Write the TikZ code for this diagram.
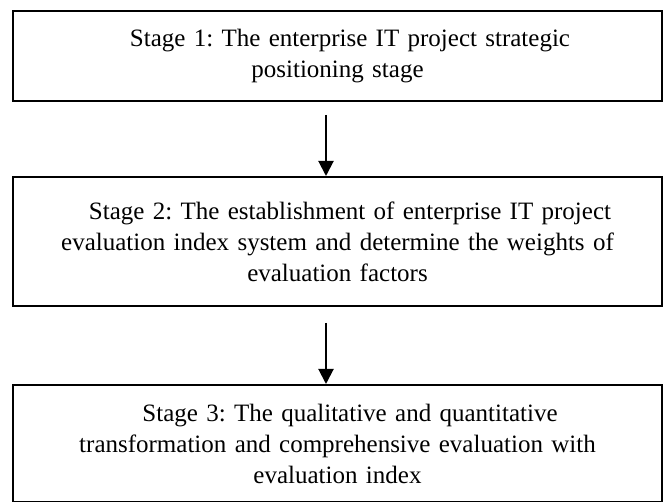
\documentclass[tikz,border=0pt]{standalone}
\usepackage{fontspec}
\setmainfont{Liberation Serif}
\frenchspacing
\usepackage{tikz}
\usetikzlibrary{positioning,arrows.meta}
\tikzset{stage node/.style={rectangle,draw,line width=2pt,minimum width=649pt,inner sep=0pt,text width=640pt,align=center,font=\fontsize{25pt}{31pt}\selectfont}}
\tikzset{flow arrow/.style={line width=2pt,-{Triangle[width=15pt,length=15pt]}}}
\newcommand{\stagepad}{\hspace*{1em}}

\begin{document}
\begin{tikzpicture}[x=1pt,y=1pt]
            \useasboundingbox (0,0) rectangle (665,-502);
            \node[stage node, minimum height=90pt] (S1) at (337.5,-56)
                {\stagepad Stage 1: The enterprise IT project strategic\\positioning stage};
            \node[stage node, minimum height=129pt] (S2) [below = 74pt of S1]
                {\stagepad Stage 2: The establishment of enterprise IT project\\evaluation index system and determine the weights of\\evaluation factors};
            \node[stage node, minimum height=117pt] (S3) [below = 77pt of S2]
                {\stagepad Stage 3: The qualitative and quantitative\\transformation and comprehensive evaluation with\\evaluation index};

            \draw[flow arrow] ([xshift=-11.5pt,yshift=-13pt]S1.south) -- ([xshift=-11.5pt]S2.north);
            \draw[flow arrow] ([xshift=-11.5pt,yshift=-16pt]S2.south) -- ([xshift=-11.5pt]S3.north);
        \end{tikzpicture}
\end{document}
